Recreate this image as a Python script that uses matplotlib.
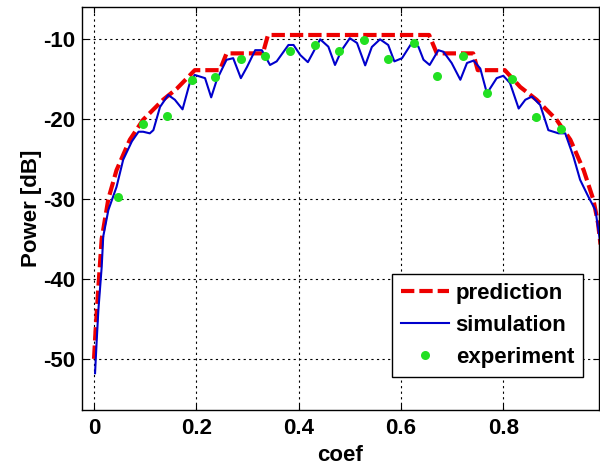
import numpy as np
import matplotlib
matplotlib.use("Agg")
import matplotlib.pyplot as plt

# values
pred_x = [0.0, 0.003, 0.008, 0.015, 0.028, 0.044, 0.07, 0.096, 0.135, 0.162, 0.197,
          0.246, 0.259, 0.33, 0.34, 0.655, 0.67, 0.741, 0.75, 0.803, 0.833, 0.865,
          0.904, 0.931, 0.957, 0.976, 0.985, 0.99]
pred_y = [-50, -46.5, -41.5, -35, -30, -26.4, -22.6, -20.1, -17.6, -16.2, -13.9,
          -13.9, -11.8, -11.8, -9.5, -9.5, -11.8, -11.8, -13.9, -13.9, -16, -17.6,
          -20.1, -22.6, -26.4, -30.1, -33, -35.7]

sim_x = [0.002, 0.005, 0.0085, 0.015, 0.018, 0.028, 0.044, 0.057, 0.074, 0.087, 0.096,
         0.109, 0.116, 0.129, 0.145, 0.158, 0.173, 0.188, 0.197, 0.217, 0.229, 0.24,
         0.259, 0.272, 0.287, 0.299, 0.315, 0.328, 0.344, 0.357, 0.38, 0.39, 0.403,
         0.418, 0.442, 0.458, 0.471, 0.484, 0.5, 0.514, 0.53, 0.543, 0.559, 0.575,
         0.587, 0.602, 0.621, 0.634, 0.644, 0.656, 0.673, 0.683, 0.699, 0.716, 0.729,
         0.742, 0.755, 0.768, 0.774, 0.787, 0.8, 0.813, 0.83, 0.843, 0.856, 0.872,
         0.888, 0.908, 0.921, 0.937, 0.95, 0.966, 0.98, 0.99]
sim_y = [-51.8, -48, -43.9, -38.5, -34.7, -31.4, -28.5, -25.1, -22.8, -21.6, -21.6,
         -21.8, -21.4, -18.5, -17, -17.6, -18.8, -15.3, -14.5, -14.9, -17.3, -15.1,
         -12.6, -12.4, -14.9, -13.5, -11.4, -11.4, -13.25, -12.8, -10.75, -10.75, -12,
         -12.9, -10.04, -10.96, -13.25, -11.4, -9.9, -10.5, -13.3, -11, -10.04, -10.75,
         -12.8, -12.4, -10.5, -10.96, -12.6, -13.25, -11.4, -11.6, -13, -15.1, -13,
         -12.7, -13.7, -16.8, -16.2, -14.9, -14.6, -15.5, -18.7, -17.6, -17.2, -18.25,
         -21.4, -21.8, -21.8, -24.7, -27.6, -29.7, -31.4, -35.7]

exp_x = [0.046, 0.095, 0.142, 0.192, 0.237, 0.287, 0.334, 0.383, 0.431, 0.479,
         0.527, 0.575, 0.626, 0.671, 0.721, 0.768, 0.817, 0.864, 0.913]
exp_y = [-29.8, -20.6, -19.6, -15.1, -14.8, -12.5, -12.1, -11.5, -10.7, -11.5,
         -10.1, -12.5, -10.5, -14.6, -12.1, -16.8, -15.0, -19.8, -21.3]

plt.rcParams['font.family'] = ['Liberation Sans', 'DejaVu Sans']
plt.rcParams['font.weight'] = 'bold'
plt.rcParams['axes.unicode_minus'] = False

fig = plt.figure(figsize=(6, 4.68), dpi=100)
ax = fig.add_axes([82/600, 1-410/468, (599-82)/600, (410-7)/468])

ax.plot(pred_x, pred_y, color='#ee0000', lw=3, dashes=(3.2, 1.2), label='prediction', zorder=2)
ax.plot(sim_x, sim_y, color='#0000cc', lw=1.5, label='simulation', zorder=3)
ax.plot(exp_x, exp_y, 'o', color='#22e022', ms=6.5, mec='none', label='experiment', zorder=4)

ax.set_xlim(-0.0235, 0.987)
ax.set_ylim(-56.4, -6)
ax.set_xticks([0, 0.2, 0.4, 0.6, 0.8])
ax.set_xticklabels(['0', '0.2', '0.4', '0.6', '0.8'])
ax.set_yticks([-50, -40, -30, -20, -10])
ax.set_yticklabels(['-50', '-40', '-30', '-20', '-10'])
ax.tick_params(direction='in', top=True, right=True, labelsize=16, length=4, width=0.8)
ax.tick_params(axis='x', pad=6)
ax.tick_params(axis='y', pad=5)
for lab in ax.get_xticklabels() + ax.get_yticklabels():
    lab.set_fontweight('bold')
ax.grid(True, color='black', linestyle=(0, (2, 3)), lw=0.8)
for s in ax.spines.values():
    s.set_linewidth(1.0)

ax.set_xlabel('coef', fontsize=16, fontweight='bold', labelpad=4)
ax.set_ylabel('Power [dB]', fontsize=16, fontweight='bold', labelpad=1)

leg = ax.legend(loc='lower right', bbox_to_anchor=(0.969, 0.082), borderaxespad=0,
                fancybox=False, edgecolor='black', framealpha=1, handlelength=2.15,
                handletextpad=0.3, borderpad=0.4, labelspacing=0.5,
                prop={'size': 16, 'weight': 'bold'})
leg.get_frame().set_linewidth(1.0)

fig.savefig('out.png', dpi=100)
